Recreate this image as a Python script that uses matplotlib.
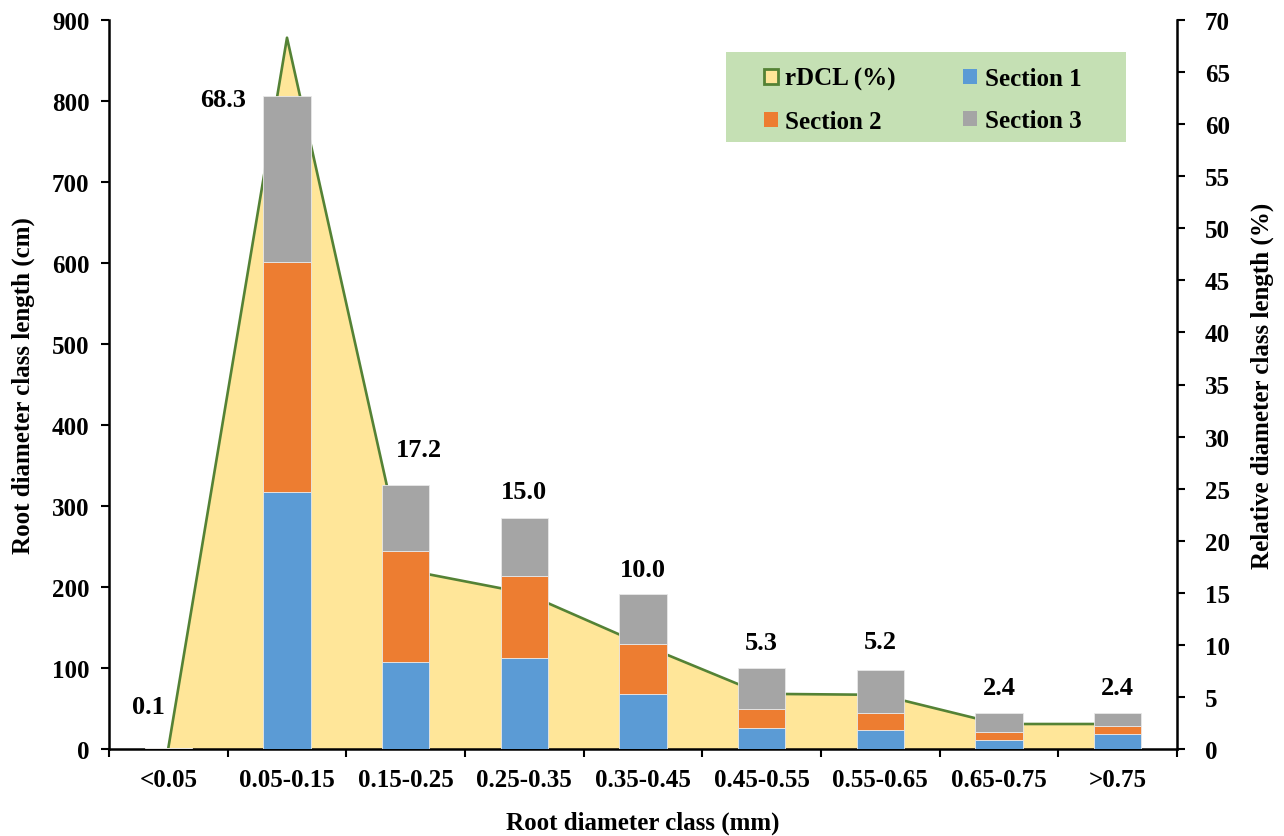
import matplotlib
matplotlib.use("Agg")
import matplotlib.pyplot as plt
from matplotlib.patches import Patch, Rectangle
import numpy as np

categories = ["<0.05", "0.05-0.15", "0.15-0.25", "0.25-0.35", "0.35-0.45",
              "0.45-0.55", "0.55-0.65", "0.65-0.75", ">0.75"]
section1 = [0.3, 317, 108, 112, 68, 26, 23, 11, 18]
section2 = [0.4, 284, 137, 102, 62, 24, 21, 10, 10]
section3 = [0.3, 205, 81, 71, 61, 50, 54, 24, 17]
rdcl = [0.1, 68.3, 17.2, 15.0, 10.0, 5.3, 5.2, 2.4, 2.4]
rdcl_labels = ["0.1", "68.3", "17.2", "15.0", "10.0", "5.3", "5.2", "2.4", "2.4"]

# label offsets in pixels (style, not data)
label_offsets = [(-20, 42), (-64, -3), (13, 35), (0, 27), (0, 25), (0, 25), (0, 28), (0, 25), (0, 25)]

plt.rcParams['font.family'] = ['Liberation Serif', 'DejaVu Serif']
plt.rcParams['font.weight'] = 'bold'

FS = 18
W, H = 1284, 837
L, B, AW, AH = 109, 750, 1068, 729

fig = plt.figure(figsize=(W/100, H/100), dpi=100)
ax1 = fig.add_axes([L/W, 1-B/H, AW/W, AH/H])
ax2 = ax1.twinx()

x = np.arange(len(categories))

# area on right axis
ax2.fill_between(x, 0, rdcl, color='#FFE699', zorder=1, linewidth=0)
ax2.plot(x, rdcl, color='#548235', linewidth=1.9, zorder=2)
ax2.set_ylim(0, 70)
ax2.set_yticks(np.arange(0, 71, 5))

ax1.set_zorder(ax2.get_zorder() + 1)
ax1.patch.set_visible(False)

c1, c2, c3 = '#5B9BD5', '#ED7D31', '#A5A5A5'
w = 0.4
s1 = np.array(section1); s2 = np.array(section2); s3 = np.array(section3)
ax1.bar(x, s1, w, color=c1, edgecolor='#E8E8E8', linewidth=0.6, zorder=3)
ax1.bar(x, s2, w, bottom=s1, color=c2, edgecolor='#E8E8E8', linewidth=0.6, zorder=3)
ax1.bar(x, s3, w, bottom=s1 + s2, color=c3, edgecolor='#E8E8E8', linewidth=0.6, zorder=3)
totals = s1 + s2 + s3

for i, (lab, off) in enumerate(zip(rdcl_labels, label_offsets)):
    ax1.annotate(lab, (x[i], totals[i]), xytext=off, textcoords='offset pixels',
                 ha='center', va='center', fontsize=19, fontweight='bold', zorder=5)

ax1.set_xlim(-0.5, len(categories) - 0.5)
ax1.set_ylim(0, 900)
ax1.set_yticks(np.arange(0, 901, 100))
ax1.set_xticks(x)
ax1.set_xticklabels(categories)
ax1.set_xticks(np.arange(-0.5, len(categories), 1), minor=True)
ax1.tick_params(axis='x', which='major', length=0, pad=14, labelsize=FS)
ax1.tick_params(axis='x', which='minor', length=6, width=1.5, direction='out')
ax1.tick_params(axis='y', length=6, width=1.5, direction='out', labelsize=FS, pad=8)
ax2.tick_params(axis='y', length=6, width=1.5, direction='out', labelsize=FS, pad=14)

for ax in (ax1, ax2):
    ax.spines['top'].set_visible(False)
    for s in ('left', 'right', 'bottom'):
        ax.spines[s].set_linewidth(1.8)
ax1.spines['right'].set_visible(False)
ax2.spines['left'].set_visible(False)
ax2.spines['bottom'].set_visible(False)

for t in ax1.get_xticklabels() + ax1.get_yticklabels() + ax2.get_yticklabels():
    t.set_fontweight('bold')

ax1.set_xlabel('Root diameter class (mm)', fontsize=FS, fontweight='bold', labelpad=14)
ax1.set_ylabel('Root diameter class length (cm)', fontsize=FS, fontweight='bold', labelpad=12)
ax2.set_ylabel('Relative diameter class length (%)', fontsize=FS, fontweight='bold', labelpad=15)

# legend background box
ax1.add_patch(Rectangle(((726-L)/AW, (B-143)/AH), 400/AW, 90/AH, transform=ax1.transAxes,
                        facecolor='#C5E0B4', edgecolor='none', zorder=9, clip_on=False))

handles = [
    Patch(facecolor='#FFE699', edgecolor='#548235', linewidth=2, label='rDCL (%)'),
    Patch(facecolor=c2, edgecolor='none', label='Section 2'),
    Patch(facecolor=c1, edgecolor='none', label='Section 1'),
    Patch(facecolor=c3, edgecolor='none', label='Section 3'),
]
leg = ax1.legend(handles=handles, ncol=2, loc='upper left',
                 bbox_to_anchor=((764-L)/AW, (B-68)/AH),
                 frameon=False, prop={'family': 'Liberation Serif', 'weight': 'bold', 'size': FS},
                 handlelength=0.55, handleheight=0.55, handletextpad=0.3,
                 borderpad=0, labelspacing=0.78, borderaxespad=0, columnspacing=2.7)
leg.set_zorder(10)

fig.savefig('out.png', dpi=100)
